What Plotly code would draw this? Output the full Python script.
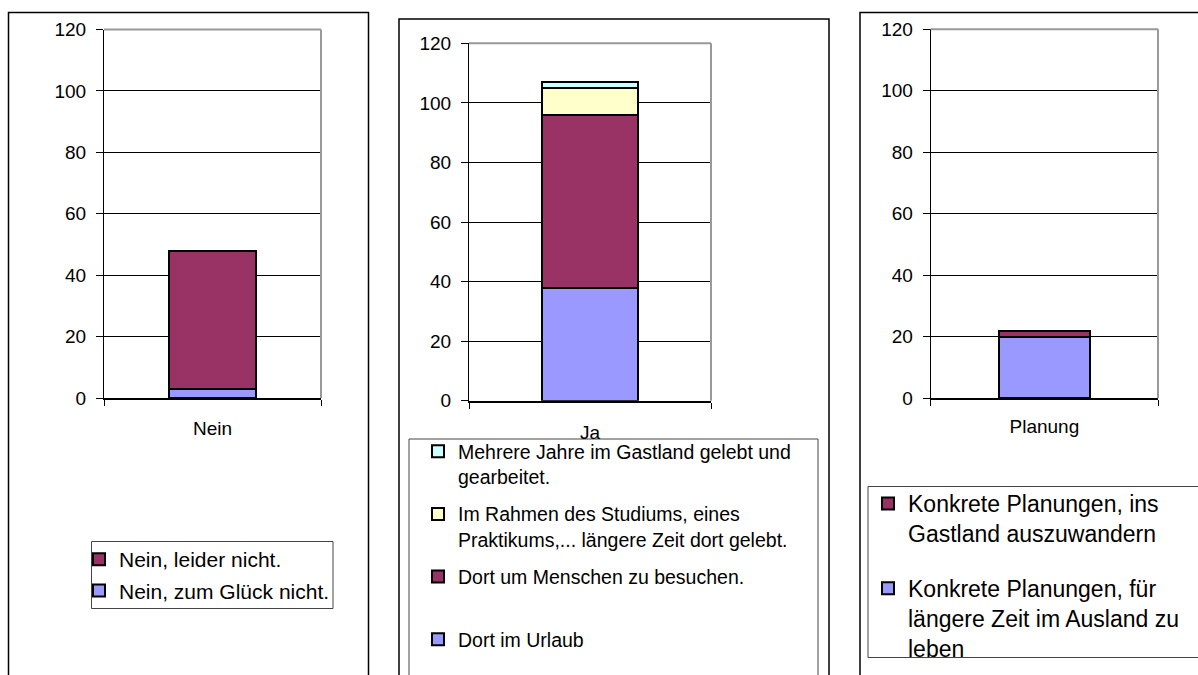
import plotly.graph_objects as go

W, H = 1198, 675

# ---- data ----
nein_cat = "Nein"
nein_names = ["Nein, zum Glück nicht.", "Nein, leider nicht."]
nein_vals = [3, 45]

ja_cat = "Ja"
ja_names = [
    "Dort im Urlaub",
    "Dort um Menschen zu besuchen.<br> ",
    "Im Rahmen des Studiums, eines<br>Praktikums,... längere Zeit dort gelebt.",
    "Mehrere Jahre im Gastland gelebt und<br>gearbeitet.",
]
ja_vals = [38, 58, 9, 2]

plan_cat = "Planung"
plan_names = [
    "Konkrete Planungen, für<br>längere Zeit im Ausland zu<br>leben",
    "Konkrete Planungen, ins<br>Gastland auszuwandern",
]
plan_vals = [20, 2]

y_ticks = [0, 20, 40, 60, 80, 100, 120]

BLUE, MAROON, YELLOW, CYAN = "#9999FF", "#993366", "#FFFFCC", "#CCFFFF"
FONT = "Liberation Sans, Arial, Helvetica, sans-serif"


def fx(p):
    return p / W


def fy(p):
    return 1 - p / H


# layout of the three chart panels, in pixels
panels = [
    dict(cat=nein_cat, names=nein_names, vals=nein_vals, colors=[BLUE, MAROON],
         xd=(104, 321), yd=(398, 29.5), frame=(8.5, 12.5, 368.5, 720),
         lbox=(91.5, 541.5, 333, 608.5), lx=79, ly=539, lfont=21, gap=1,
         std=12),
    dict(cat=ja_cat, names=ja_names, vals=ja_vals, colors=[BLUE, MAROON, YELLOW, CYAN],
         xd=(469, 711), yd=(400.7, 43.3), frame=(399, 19, 829, 720),
         lbox=(409, 439, 818, 720), lx=418, ly=432, lfont=19.5, gap=9,
         std=13),
    dict(cat=plan_cat, names=plan_names, vals=plan_vals, colors=[BLUE, MAROON],
         xd=(930.7, 1158), yd=(398.3, 29.3), frame=(860, 12.5, 1260, 720),
         lbox=(868, 486.5, 1260, 657.5), lx=868, ly=482, lfont=23, gap=22,
         std=10),
]

fig = go.Figure()
shapes = []
layout = dict(
    width=W, height=H, margin=dict(l=0, r=0, t=0, b=0, autoexpand=False),
    paper_bgcolor="white", plot_bgcolor="white",
    barmode="stack", font=dict(family=FONT, size=19, color="black"),
)

for i, p in enumerate(panels, start=1):
    sfx = "" if i == 1 else str(i)
    xa, ya = "x" + sfx, "y" + sfx
    leg = "legend" + sfx
    n = len(p["names"])
    for k, (name, val, col) in enumerate(zip(p["names"], p["vals"], p["colors"])):
        fig.add_trace(go.Bar(
            x=[0], y=[val], name=name, width=0.4,
            marker=dict(color=col, line=dict(color="black", width=2)),
            xaxis=xa, yaxis=ya, legend=leg, legendgroup=f"{i}-{k}",
            legendrank=n - k, hoverinfo="skip",
        ))

    layout["xaxis" + sfx] = dict(
        domain=[fx(p["xd"][0]), fx(p["xd"][1])], anchor=ya,
        range=[-0.5, 0.5], tickvals=[0], ticktext=[p["cat"]], ticks="",
        ticklabelstandoff=p["std"], showgrid=False, zeroline=False,
        showline=True, linecolor="black", linewidth=2,
        minor=dict(tickvals=[-0.5, 0.5], ticks="outside", ticklen=6,
                   tickcolor="black", tickwidth=1, showgrid=False),
        tickfont=dict(size=19), fixedrange=True,
    )
    layout["yaxis" + sfx] = dict(
        domain=[fy(p["yd"][0]), fy(p["yd"][1])], anchor=xa,
        range=[0, 120], tickvals=y_ticks, ticks="outside", ticklen=7,
        tickcolor="black", tickwidth=1, ticklabelstandoff=6,
        showgrid=True, gridcolor="black", gridwidth=1, zeroline=False,
        showline=True, linecolor="black", linewidth=1,
        tickfont=dict(size=19), fixedrange=True,
    )
    layout[leg] = dict(
        x=fx(p["lx"]), y=fy(p["ly"]), xanchor="left", yanchor="top",
        bgcolor="rgba(0,0,0,0)", borderwidth=0, traceorder="grouped",
        tracegroupgap=p["gap"], valign="top",
        font=dict(family=FONT, size=p["lfont"], color="black"),
    )

    # grey plot-area border on the top and right sides
    for x0, y0, x1, y1 in [(0, 1, 1, 1), (1, 0, 1, 1)]:
        shapes.append(dict(type="line", xref=xa + " domain", yref=ya + " domain",
                           x0=x0, y0=y0, x1=x1, y1=y1,
                           line=dict(color="#999999", width=2)))
    # outer chart frame
    f = p["frame"]
    shapes.append(dict(type="rect", xref="paper", yref="paper",
                       x0=fx(f[0]), x1=fx(f[2]), y0=fy(f[3]), y1=fy(f[1]),
                       line=dict(color="black", width=1.5), layer="below"))
    # legend box
    b = p["lbox"]
    shapes.append(dict(type="rect", xref="paper", yref="paper",
                       x0=fx(b[0]), x1=fx(b[2]), y0=fy(b[3]), y1=fy(b[1]),
                       line=dict(color="#444444", width=1), layer="below"))

layout["shapes"] = shapes
fig.update_layout(**layout)
fig.write_html("out.html")
